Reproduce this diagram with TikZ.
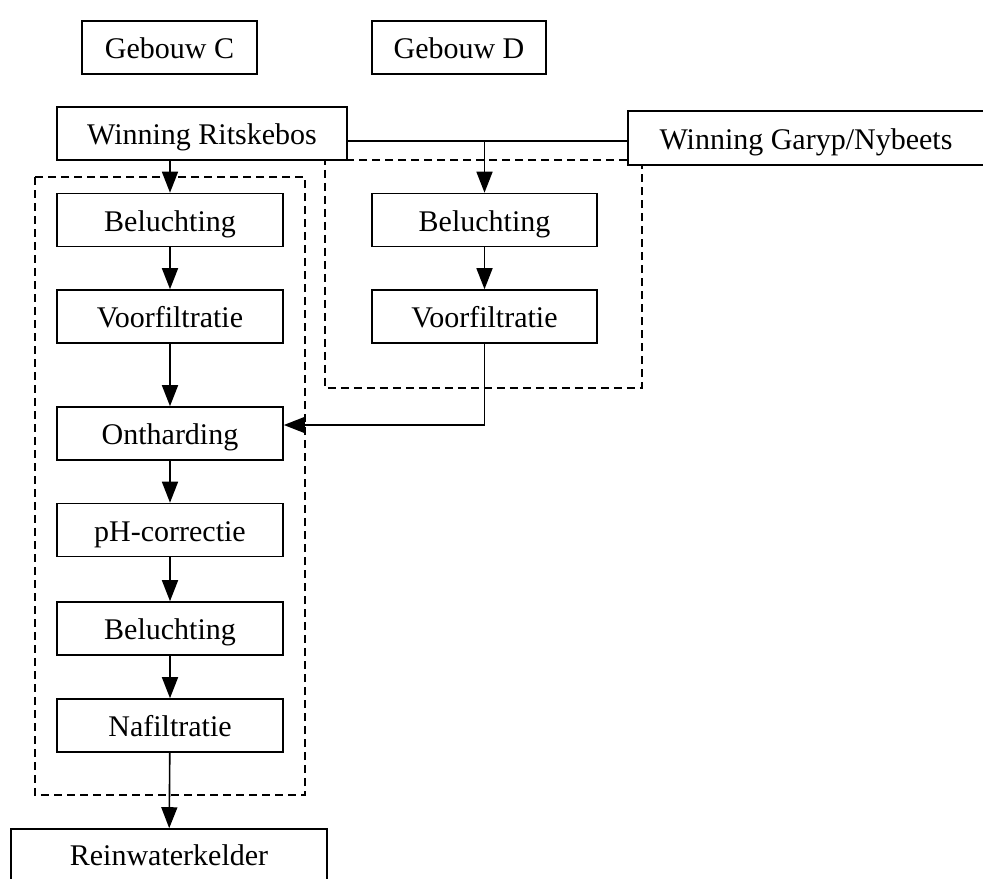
\documentclass[tikz,border=0pt]{standalone}
\usepackage{fontspec}
\setmainfont{Liberation Serif}
\usetikzlibrary{arrows.meta}
\begin{document}
\begin{tikzpicture}[x=0.5pt,y=-0.5pt,
  stepbox/.style={draw,line width=0.8pt,inner sep=0pt,minimum height=26.5pt,
    text height=14pt,text depth=3pt,
    font=\fontsize{15}{17}\selectfont},
  flow/.style={line width=0.8pt,-{Triangle[length=10.5pt,width=8pt]}},
  link/.style={line width=0.8pt},
  group/.style={line width=0.8pt,dash pattern=on 4pt off 2.5pt}]
\useasboundingbox (0,0) rectangle (983,878);

% buildings
\node[stepbox,minimum width=87.5pt] (gebC) at (169.5,47.5) {Gebouw C};
\node[stepbox,minimum width=87pt] (gebD) at (459,47.5) {Gebouw D};

% sources
\node[stepbox,minimum width=145pt] (rits) at (202,133.5) {Winning Ritskebos};
\node[stepbox,minimum width=178pt,minimum height=27pt] (gary) at (806,138) {Winning Garyp/Nybeets};

% treatment line, building C
\node[stepbox,minimum width=113pt] (belC) at (170,220) {Beluchting};
\node[stepbox,minimum width=113pt] (voorC) at (170,316.5) {Voorfiltratie};
\node[stepbox,minimum width=113pt] (ont) at (170,433.5) {Ontharding};
\node[stepbox,minimum width=113pt] (ph) at (170,530) {pH-correctie};
\node[stepbox,minimum width=113pt] (belN) at (170,628.5) {Beluchting};
\node[stepbox,minimum width=113pt] (naf) at (170,725.5) {Nafiltratie};
\node[stepbox,minimum width=158pt,minimum height=25.5pt] (rein) at (169,854.5) {Reinwaterkelder};

% treatment line, building D
\node[stepbox,minimum width=112.5pt] (belD) at (484.5,220) {Beluchting};
\node[stepbox,minimum width=112.5pt] (voorD) at (484.5,316.5) {Voorfiltratie};

% dashed building boundaries
\draw[group] (35,177) rectangle (305,795);
\draw[group] (gary.west |- 0,160) -- (325,160) -- (325,388) -- (642,388) -- (642,165);

% connectors
\coordinate (jD) at (484.5,141);
\coordinate (jO) at (484.5,425);
\draw[flow] (rits.south -| belC) -- (belC.north);
\draw[link] (rits.east |- jD) -- (jD) -- (gary.west |- jD);
\draw[flow] (jD) -- (belD.north);
\draw[flow] (belD) -- (voorD);
\draw[flow] (voorD.south) -- (jO) -- (ont.east |- jO);
\draw[flow] (belC) -- (voorC);
\draw[flow] (voorC) -- (ont);
\draw[flow] (ont) -- (ph);
\draw[flow] (ph) -- (belN);
\draw[flow] (belN) -- (naf);
\draw[flow] (naf) -- (rein);
\end{tikzpicture}
\end{document}
